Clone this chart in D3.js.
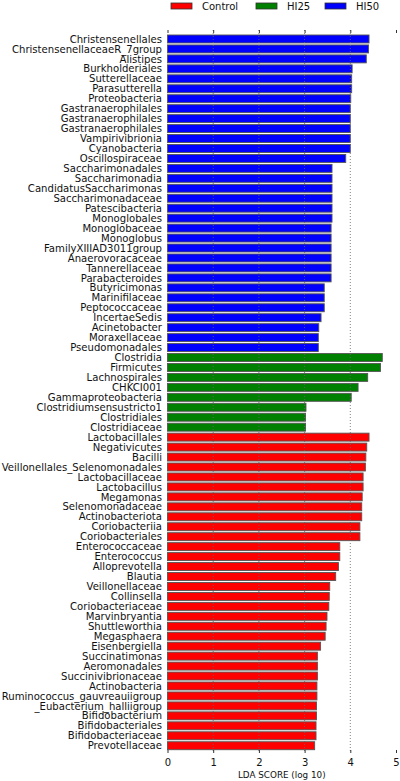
<!DOCTYPE html>
<html>
<head>
<meta charset="utf-8">
<script src="https://cdn.jsdelivr.net/npm/d3@7.9.0/dist/d3.min.js"></script>
<style>
  html, body { margin: 0; padding: 0; background: #fff; }
  svg { display: block; font-family: "DejaVu Sans", sans-serif; }
</style>
</head>
<body>
<svg id="chart" width="400" height="781"></svg>
<script>
// ================================
// Data (top to bottom as drawn)
// ================================
const groups = ["Control", "HI25", "HI50"];
const groupColors = ["#ff0000", "#008000", "#0000ff"];

const hi50Taxa = [
  "Christensenellales", "ChristensenellaceaeR_7group", "Alistipes", "Burkholderiales",
  "Sutterellaceae", "Parasutterella", "Proteobacteria", "Gastranaerophilales",
  "Gastranaerophilales", "Gastranaerophilales", "Vampirivibrionia", "Cyanobacteria",
  "Oscillospiraceae", "Saccharimonadales", "Saccharimonadia", "CandidatusSaccharimonas",
  "Saccharimonadaceae", "Patescibacteria", "Monoglobales", "Monoglobaceae",
  "Monoglobus", "FamilyXIIIAD3011group", "Anaerovoracaceae", "Tannerellaceae",
  "Parabacteroides", "Butyricimonas", "Marinifilaceae", "Peptococcaceae",
  "IncertaeSedis", "Acinetobacter", "Moraxellaceae", "Pseudomonadales"
];
const hi50Scores = [
  4.41, 4.40, 4.35, 4.04, 4.03, 4.03, 4.01, 4.00,
  4.00, 4.00, 4.00, 4.00, 3.90, 3.60, 3.60, 3.60,
  3.60, 3.60, 3.60, 3.58, 3.58, 3.58, 3.58, 3.58,
  3.58, 3.43, 3.43, 3.43, 3.36, 3.31, 3.30, 3.30
];

const hi25Taxa = [
  "Clostridia", "Firmicutes", "Lachnospirales", "CHKCI001",
  "Gammaproteobacteria", "Clostridiumsensustricto1", "Clostridiales", "Clostridiaceae"
];
const hi25Scores = [4.70, 4.66, 4.38, 4.17, 4.02, 3.03, 3.02, 3.02];

const controlTaxa = [
  "Lactobacillales", "Negativicutes", "Bacilli", "Veillonellales_Selenomonadales",
  "Lactobacillaceae", "Lactobacillus", "Megamonas", "Selenomonadaceae",
  "Actinobacteriota", "Coriobacteriia", "Coriobacteriales", "Enterococcaceae",
  "Enterococcus", "Alloprevotella", "Blautia", "Veillonellaceae",
  "Collinsella", "Coriobacteriaceae", "Marvinbryantia", "Shuttleworthia",
  "Megasphaera", "Eisenbergiella", "Succinatimonas", "Aeromonadales",
  "Succinivibrionaceae", "Actinobacteria", "Ruminococcus_gauvreauiigroup", "_Eubacterium_halliigroup",
  "Bifidobacterium", "Bifidobacteriales", "Bifidobacteriaceae", "Prevotellaceae"
];
const controlScores = [
  4.41, 4.36, 4.34, 4.33, 4.28, 4.28, 4.26, 4.25,
  4.25, 4.21, 4.21, 3.77, 3.77, 3.74, 3.68, 3.55,
  3.54, 3.53, 3.49, 3.47, 3.45, 3.35, 3.28, 3.28,
  3.28, 3.27, 3.27, 3.26, 3.26, 3.25, 3.25, 3.22
];

const xTicks = [0, 1, 2, 3, 4, 5];
const gridTicks = [1, 2, 3, 4];

// build rows
const rows = [];
hi50Taxa.forEach((t, i) => rows.push({ id: "HI50-" + i, label: t, value: hi50Scores[i], group: "HI50" }));
hi25Taxa.forEach((t, i) => rows.push({ id: "HI25-" + i, label: t, value: hi25Scores[i], group: "HI25" }));
controlTaxa.forEach((t, i) => rows.push({ id: "Control-" + i, label: t, value: controlScores[i], group: "Control" }));

// ================================
// Scales
// ================================
const svg = d3.select("#chart");
const plotTop = 30, plotBottom = 753;

const x = d3.scaleLinear().domain([0, 5]).range([167.5, 396]);
const y = d3.scaleBand()
  .domain(rows.map((d) => d.id))
  .range([34, 750.7])
  .paddingInner(0.2)
  .paddingOuter(0.1);
const color = d3.scaleOrdinal().domain(groups).range(groupColors);

// ================================
// Bars
// ================================
svg.append("g")
  .selectAll("rect")
  .data(rows)
  .join("rect")
  .attr("x", x(0))
  .attr("y", (d) => y(d.id))
  .attr("width", (d) => x(d.value) - x(0))
  .attr("height", y.bandwidth())
  .attr("fill", (d) => color(d.group))
  .attr("stroke", "#555")
  .attr("stroke-width", 0.9);

// labels
svg.append("g")
  .selectAll("text")
  .data(rows)
  .join("text")
  .attr("x", 162)
  .attr("y", (d) => y(d.id) + y.bandwidth() / 2)
  .attr("dy", "0.36em")
  .attr("text-anchor", "end")
  .attr("font-size", 10.1)
  .attr("fill", "#111")
  .text((d) => d.label);

// ================================
// Grid (dotted, on top of bars)
// ================================
svg.append("g")
  .selectAll("line")
  .data(gridTicks)
  .join("line")
  .attr("x1", (d) => x(d))
  .attr("x2", (d) => x(d))
  .attr("y1", plotTop)
  .attr("y2", plotBottom)
  .attr("stroke", "#666")
  .attr("stroke-width", 0.8)
  .attr("stroke-dasharray", "1,2");

// ================================
// Axes: ticks only, no spine
// ================================
const bottomAxis = svg.append("g")
  .attr("transform", `translate(0,${plotBottom - 3})`)
  .call(d3.axisBottom(x).tickValues(xTicks).tickFormat(d3.format("d")).tickSize(3).tickPadding(6));
bottomAxis.select(".domain").remove();
bottomAxis.selectAll("text").attr("font-size", 10).attr("font-family", "DejaVu Sans, sans-serif").attr("fill", "#111");
bottomAxis.selectAll("line").attr("stroke", "#333");

const topAxis = svg.append("g")
  .attr("transform", `translate(0,${plotTop})`)
  .call(d3.axisBottom(x).tickValues(xTicks).tickFormat("").tickSize(3));
topAxis.select(".domain").remove();
topAxis.selectAll("line").attr("stroke", "#333");

svg.append("text")
  .attr("x", x(2.5))
  .attr("y", 778)
  .attr("text-anchor", "middle")
  .attr("font-size", 8.8)
  .attr("fill", "#111")
  .text("LDA SCORE (log 10)");

// ================================
// Legend
// ================================
const legendX = [171, 256, 325];
const legend = svg.append("g")
  .selectAll("g")
  .data(groups)
  .join("g")
  .attr("transform", (_, i) => `translate(${legendX[i]},3)`);

legend.append("rect")
  .attr("width", 21)
  .attr("height", 6)
  .attr("fill", (d) => color(d))
  .attr("stroke", "#333")
  .attr("stroke-width", 0.8);

legend.append("text")
  .attr("x", 31)
  .attr("y", 3)
  .attr("dy", "0.36em")
  .attr("font-size", 10)
  .attr("fill", "#111")
  .text((d) => d);
</script>
</body>
</html>
